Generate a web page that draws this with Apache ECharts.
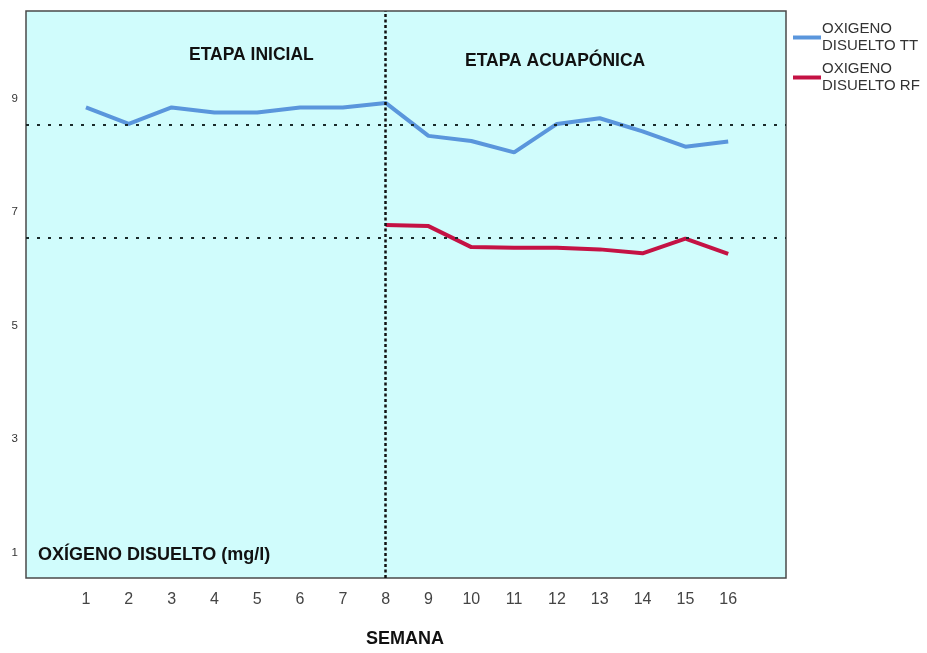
<!DOCTYPE html>
<html>
<head>
<meta charset="utf-8">
<script src="https://cdn.jsdelivr.net/npm/echarts@6/dist/echarts.min.js"></script>
<style>
html,body{margin:0;padding:0;background:#fff;}
#chart{width:927px;height:653px;}
</style>
</head>
<body>
<div id="chart"></div>
<script>
var weeks = [1,2,3,4,5,6,7,8,9,10,11,12,13,14,15,16];
var ttValues = [8.84,8.55,8.84,8.75,8.75,8.84,8.84,8.92,8.34,8.25,8.05,8.55,8.65,8.42,8.15,8.24];
var rfWeeks = [8,9,10,11,12,13,14,15,16];
var rfValues = [6.77,6.75,6.38,6.37,6.37,6.34,6.27,6.53,6.26];
var yTicks = [1,3,5,7,9];
var refLines = [8.54, 6.54];
var stageBoundary = 8;
var seriesNames = ['OXIGENO DISUELTO TT', 'OXIGENO DISUELTO RF'];

var FONT = '"Liberation Sans", Arial, sans-serif';
var chart = echarts.init(document.getElementById('chart'));

function pairs(xs, ys){ return xs.map(function(x,i){ return [x, ys[i]]; }); }

var option = {
  animation: false,
  backgroundColor: '#ffffff',
  grid: {
    left: 26, top: 11, right: 141, bottom: 75,
    show: true, backgroundColor: '#D0FCFC', borderColor: '#4a4a4a', borderWidth: 1.5
  },
  legend: {
    orient: 'vertical',
    left: 788, top: 15,
    itemGap: 5,
    itemWidth: 28, itemHeight: 4,
    icon: 'rect',
    data: seriesNames,
    formatter: function(n){ return n.replace(' ', '\n'); },
    textStyle: { fontFamily: FONT, fontSize: 15, color: '#333', lineHeight: 17.5, padding: [0,0,0,-4] }
  },
  xAxis: {
    type: 'value', min: -0.4, max: 17.35,
    axisLine: { show: false }, axisTick: { show: false }, splitLine: { show: false },
    axisLabel: { customValues: weeks, fontFamily: FONT, fontSize: 16, color: '#444', margin: 14 }
  },
  yAxis: {
    type: 'value', min: 0.55, max: 10.54,
    axisLine: { show: false }, axisTick: { show: false }, splitLine: { show: false },
    axisLabel: { customValues: yTicks, fontFamily: FONT, fontSize: 11.5, color: '#333', margin: 8 }
  },
  series: [
    {
      name: seriesNames[0], type: 'line', data: pairs(weeks, ttValues),
      showSymbol: false, symbol: 'none',
      lineStyle: { color: '#5A96DC', width: 4 }, itemStyle: { color: '#5A96DC' },
      z: 3,
      markLine: {
        silent: true, symbol: 'none', label: { show: false },
        lineStyle: { color: '#1a2a2a', width: 2, type: [3, 8] },
        data: refLines.map(function(v){ return { yAxis: v }; }).concat([
          { xAxis: stageBoundary, lineStyle: { color: '#111', width: 2.5, type: [3, 2.5] } }
        ])
      }
    },
    {
      name: seriesNames[1], type: 'line', data: pairs(rfWeeks, rfValues),
      showSymbol: false, symbol: 'none',
      lineStyle: { color: '#C41244', width: 4 }, itemStyle: { color: '#C41244' },
      z: 3
    }
  ],
  graphic: [
    { type: 'text', left: 189, top: 46, style: { text: 'ETAPA INICIAL', font: 'bold 17.5px ' + FONT, fill: '#111' } },
    { type: 'text', left: 465, top: 52, style: { text: 'ETAPA ACUAPÓNICA', font: 'bold 17.5px ' + FONT, fill: '#111' } },
    { type: 'text', left: 38, top: 546, style: { text: 'OXÍGENO DISUELTO (mg/l)', font: 'bold 18px ' + FONT, fill: '#111' } },
    { type: 'text', left: 366, top: 630, style: { text: 'SEMANA', font: 'bold 18px ' + FONT, fill: '#111' } }
  ]
};
chart.setOption(option);
</script>
</body>
</html>
